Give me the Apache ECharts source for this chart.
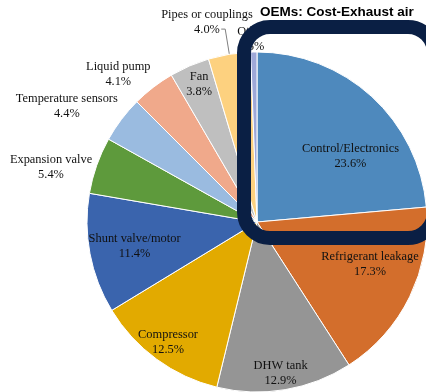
<!DOCTYPE html>
<html>
<head>
<meta charset="utf-8">
<script src="https://cdn.jsdelivr.net/npm/echarts@6/dist/echarts.min.js"></script>
<style>
html,body{margin:0;padding:0;background:#fff;}
#chart{width:426px;height:392px;}
</style>
</head>
<body>
<div id="chart"></div>
<script>
// Data
var categories = ['Control/Electronics','Refrigerant leakage','DHW tank','Compressor','Shunt valve/motor','Expansion valve','Temperature sensors','Liquid pump','Fan','Pipes or couplings','Other'];
var values = [23.6, 17.3, 12.9, 12.5, 11.4, 5.4, 4.4, 4.1, 3.8, 4.0, 0.6];
var colors = ['#4e89bd','#d36e2c','#959595','#e2aa00','#3a64ad','#5e9a3c','#9abbe0','#f0a98b','#bfbfbf','#fdd17f','#9ea8d8'];
var labelOffsets = [[34,-1],[34,4],[9,64],[-37,49],[-36,8],[-123,-25],[-120,-63],[-85,-78],[-23,-57],null,[-4,-95]];
var titleText = 'OEMs: Cost-Exhaust air';

var data = categories.map(function (c, i) {
  var item = { name: c, value: values[i], itemStyle: { color: colors[i] } };
  if (labelOffsets[i]) {
    item.label = { position: 'inside', offset: labelOffsets[i] };
    item.labelLine = { show: false };
  } else {
    item.label = { position: 'outside' };
    item.labelLine = { show: true, length: 25.5, length2: 4, lineStyle: { color: '#7f7f7f', width: 1 } };
  }
  return item;
});

var chart = echarts.init(document.getElementById('chart'), null, { renderer: 'canvas' });
chart.setOption({
  animation: false,
  title: {
    text: titleText,
    left: 255, top: 0,
    textStyle: { fontFamily: 'Liberation Sans', fontWeight: 'bold', fontSize: 13.5, color: '#000' }
  },
  series: [{
    type: 'pie',
    center: [257, 222],
    radius: 170,
    startAngle: 90,
    clockwise: true,
    avoidLabelOverlap: false,
    itemStyle: { borderColor: '#ffffff', borderWidth: 1 },
    label: {
      show: true,
      formatter: function (p) { return p.name + '\n' + p.value.toFixed(1) + '%'; },
      fontFamily: 'Liberation Serif',
      fontSize: 12.4,
      lineHeight: 15,
      color: '#111',
      align: 'center'
    },
    labelLayout: function (p) {
      if (p.dataIndex === 9) {
        return { x: 207, y: 22, align: 'center', verticalAlign: 'middle', labelLinePoints: p.labelLinePoints };
      }
      return {};
    },
    emphasis: { disabled: true },
    data: data
  }],
  graphic: [{
    type: 'rect',
    z: 100,
    shape: { x: 244, y: 27, width: 190, height: 211, r: 26 },
    style: { fill: 'none', stroke: '#0a1f44', lineWidth: 14 }
  }]
});
</script>
</body>
</html>
